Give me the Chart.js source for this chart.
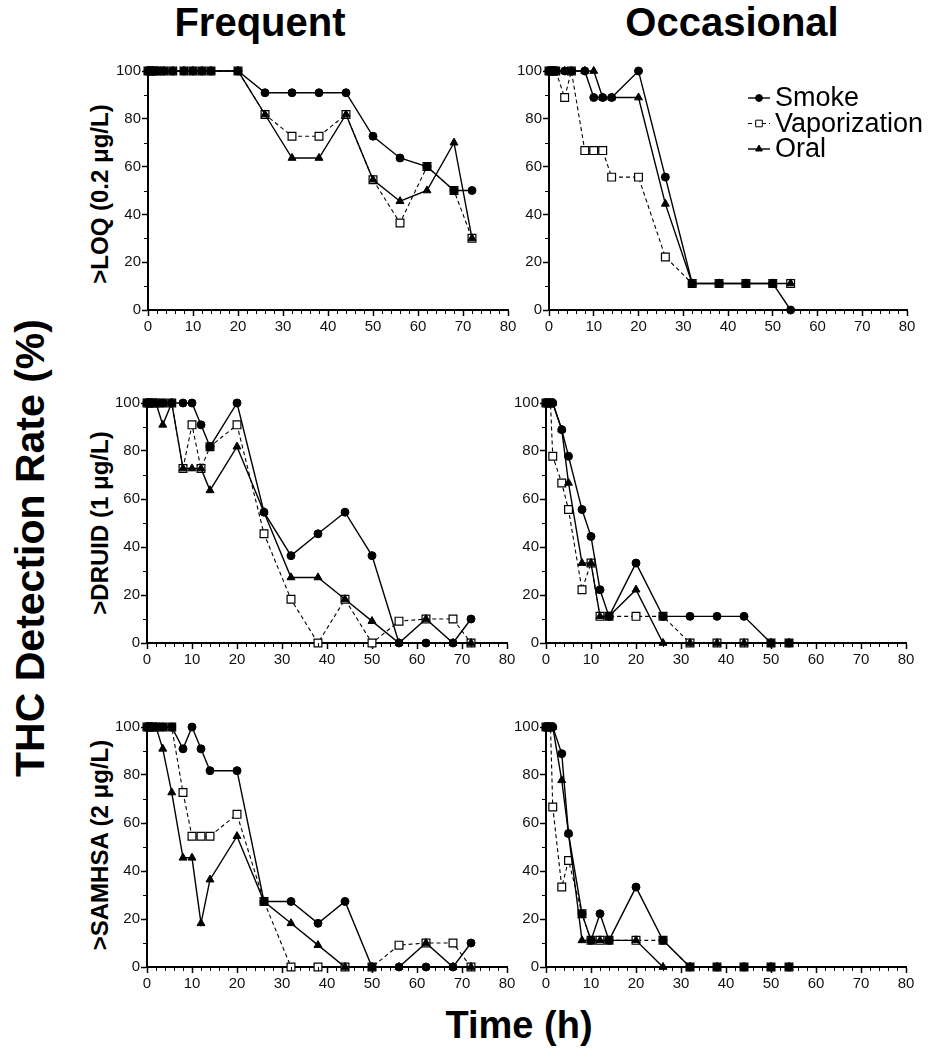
<!DOCTYPE html>
<html><head><meta charset="utf-8">
<script src="https://cdn.jsdelivr.net/npm/chart.js@4"></script>
<style>
body{margin:0;background:#fff;width:931px;height:1050px;position:relative;overflow:hidden;font-family:"Liberation Sans",Arial,Helvetica,sans-serif;}
canvas{position:absolute;}
.t{position:absolute;font-weight:bold;color:#000;white-space:nowrap;line-height:1;}
.c{transform:translate(-50%,-50%);}
.r{transform:translate(-50%,-50%) rotate(-90deg);}
</style></head><body>
<div class="t c" style="left:260px;top:22px;font-size:40px;">Frequent</div>
<div class="t c" style="left:732px;top:22px;font-size:40px;">Occasional</div>
<div class="t r" style="left:30px;top:548px;font-size:41px;">THC Detection Rate (%)</div>
<div class="t r" style="left:100px;top:194px;font-size:24px;">&gt;LOQ (0.2 μg/L)</div>
<div class="t r" style="left:100px;top:523px;font-size:24px;">&gt;DRUID (1 μg/L)</div>
<div class="t r" style="left:100px;top:845px;font-size:24px;">&gt;SAMHSA (2 μg/L)</div>
<div class="t c" style="left:519px;top:1025px;font-size:38px;">Time (h)</div>
<script>
// ---- data ----
const seriesNames = ["Smoke", "Vaporization", "Oral"];
const freqTimes = [0, 0.5, 1, 2, 3.5, 5.5, 8, 10, 12, 14, 20, 26, 32, 38, 44, 50, 56, 62, 68, 72];
const occTimes  = [0, 0.5, 1, 1.5, 3.5, 5, 8, 10, 12, 14, 20, 26, 32, 38, 44, 50, 54];

const freqLoqSmoke = [100,100,100,100,100,100,100,100,100,100,100, 90.9,90.9,90.9,90.9,72.7,63.6,60,50,50];
const freqLoqVapor = [100,100,100,100,100,100,100,100,100,100,100, 81.8,72.7,72.7,81.8,54.5,36.4,60,50,30];
const freqLoqOral  = [100,100,100,100,100,100,100,100,100,100,100, 81.8,63.6,63.6,81.8,54.5,45.5,50,70,30];

const freqDruidSmoke = [100,100,100,100,100,100, 100,100,90.9,81.8, 100, 54.5,36.4,45.5,54.5,36.4,0,0,0,10];
const freqDruidVapor = [100,100,100,100,100,100, 72.7,90.9,72.7,81.8, 90.9, 45.5,18.2,0,18.2,0,9.1,10,10,0];
const freqDruidOral  = [100,100,100,100,90.9,100, 72.7,72.7,72.7,63.6, 81.8, 54.5,27.3,27.3,18.2,9.1,0,10,0,0];

const freqSamhsaSmoke = [100,100,100,100,100,100, 90.9,100,90.9,81.8, 81.8, 27.3,27.3,18.2,27.3,0,0,0,0,10];
const freqSamhsaVapor = [100,100,100,100,100,100, 72.7,54.5,54.5,54.5, 63.6, 27.3,0,0,0,0,9.1,10,10,0];
const freqSamhsaOral  = [100,100,100,100,90.9,72.7, 45.5,45.5,18.2,36.4, 54.5, 27.3,18.2,9.1,0,0,0,10,0,0];

const occLoqSmoke = [100,100,100,100,100,100, 100,88.9,88.9,88.9, 100, 55.6,11.1,11.1,11.1,11.1,0];
const occLoqVapor = [100,100,100,100,88.9,100, 66.7,66.7,66.7,55.6, 55.6, 22.2,11.1,11.1,11.1,11.1,11.1];
const occLoqOral  = [100,100,100,100,100,100, 100,100,88.9,88.9, 88.9, 44.4,11.1,11.1,11.1,11.1,11.1];

const occDruidSmoke = [100,100,100,100,88.9,77.8, 55.6,44.4,22.2,11.1, 33.3, 11.1,11.1,11.1,11.1,0,0];
const occDruidVapor = [100,100,100,77.8,66.7,55.6, 22.2,33.3,11.1,11.1, 11.1, 11.1,0,0,0,0,0];
const occDruidOral  = [100,100,100,100,88.9,66.7, 33.3,33.3,11.1,11.1, 22.2, 0,0,0,0,0,0];

const occSamhsaSmoke = [100,100,100,100,88.9,55.6, 22.2,11.1,22.2,11.1, 33.3, 11.1,0,0,0,0,0];
const occSamhsaVapor = [100,100,100,66.7,33.3,44.4, 22.2,11.1,11.1,11.1, 11.1, 11.1,0,0,0,0,0];
const occSamhsaOral  = [100,100,100,100,77.8,55.6, 11.1,11.1,11.1,11.1, 11.1, 0,0,0,0,0,0];

const xMin = 0, xMax = 80, xStep = 10, xMinorStep = 2;
const yMin = 0, yMax = 100, yStep = 20, yMinorStep = 10;

// ---- layout / style ----
const FONT = '"Liberation Sans", Arial, Helvetica, sans-serif';
const Y_AXIS_W = 42, X_AXIS_H = 26, PAD_T = 10, PAD_R = 24;
const panels = [
  {times: freqTimes, s: freqLoqSmoke,   v: freqLoqVapor,   o: freqLoqOral,   L:148, T:71,  R:508, B:310},
  {times: occTimes,  s: occLoqSmoke,    v: occLoqVapor,    o: occLoqOral,    L:549, T:71,  R:907, B:310, legend:true},
  {times: freqTimes, s: freqDruidSmoke, v: freqDruidVapor, o: freqDruidOral, L:147, T:403, R:507, B:643},
  {times: occTimes,  s: occDruidSmoke,  v: occDruidVapor,  o: occDruidOral,  L:546, T:403, R:906, B:643},
  {times: freqTimes, s: freqSamhsaSmoke,v: freqSamhsaVapor,o: freqSamhsaOral,L:147, T:727, R:507, B:967},
  {times: occTimes,  s: occSamhsaSmoke, v: occSamhsaVapor, o: occSamhsaOral, L:546, T:727, R:906, B:967},
];

const minorTicks = {
  id: 'minorTicks',
  afterDraw(chart) {
    const ctx = chart.ctx, xs = chart.scales.x, ys = chart.scales.y, a = chart.chartArea;
    ctx.save(); ctx.strokeStyle = '#000'; ctx.lineWidth = 1; ctx.beginPath();
    for (let v = xMin + xMinorStep; v < xMax; v += xMinorStep) {
      if (v % xStep === 0) continue;
      const px = Math.round(xs.getPixelForValue(v)) + 0.5;
      ctx.moveTo(px, a.bottom); ctx.lineTo(px, a.bottom + 4);
    }
    for (let v = yMin + yMinorStep; v < yMax; v += yMinorStep) {
      if (v % yStep === 0) continue;
      const py = Math.round(ys.getPixelForValue(v)) + 0.5;
      ctx.moveTo(a.left, py); ctx.lineTo(a.left - 4, py);
    }
    ctx.stroke(); ctx.restore();
  }
};

const legendLines = {
  id: 'legendLines',
  afterDraw(chart, args, opts) {
    if (!opts || !opts.show) return;
    const ctx = chart.ctx, a = chart.chartArea;
    chart.data.datasets.forEach((ds, i) => {
      const y = a.top + 27 + i * 25.5, x0 = a.left + 199, x1 = a.left + 221, xm = (x0 + x1) / 2;
      ctx.save();
      ctx.strokeStyle = '#000'; ctx.lineWidth = ds.borderWidth; ctx.setLineDash(ds.borderDash || []);
      ctx.beginPath(); ctx.moveTo(x0, y); ctx.lineTo(x1, y); ctx.stroke();
      ctx.setLineDash([]);
      ctx.fillStyle = ds.pointBackgroundColor; ctx.strokeStyle = '#000'; ctx.lineWidth = 1;
      Chart.helpers.drawPoint(ctx, {pointStyle: ds.pointStyle, radius: ds.pointRadius * 0.85, rotation: 0, borderWidth: 1}, xm, y);
      ctx.fillStyle = '#000'; ctx.font = '27px ' + FONT; ctx.textBaseline = 'middle'; ctx.textAlign = 'left';
      ctx.fillText(ds.label, a.left + 226, y + 1);
      ctx.restore();
    });
  }
};

function pts(times, vals) { return times.map((t, i) => ({x: t, y: vals[i]})); }

function axis(min, max, step, isX) {
  return {
    type: 'linear', min, max,
    ticks: {stepSize: step, color: '#111', font: {size: 15, family: FONT}, padding: isX ? 2 : 1, maxRotation: 0, autoSkip: false},
    grid: {display: true, drawOnChartArea: false, drawTicks: true, tickLength: 6, tickColor: '#000', tickWidth: 1.5},
    border: {display: true, color: '#000', width: 2},
    afterFit(s) { if (isX) s.height = X_AXIS_H; else s.width = Y_AXIS_W; }
  };
}

panels.forEach(p => {
  const cv = document.createElement('canvas');
  const w = p.R - p.L + Y_AXIS_W + PAD_R, h = p.B - p.T + PAD_T + X_AXIS_H;
  cv.width = w; cv.height = h;
  cv.style.left = (p.L - Y_AXIS_W) + 'px'; cv.style.top = (p.T - PAD_T) + 'px';
  cv.style.width = w + 'px'; cv.style.height = h + 'px';
  document.body.appendChild(cv);
  new Chart(cv, {
    type: 'line',
    data: {
      datasets: [
        {label: seriesNames[0], data: pts(p.times, p.s), order: 0, borderColor: '#000', borderWidth: 1.4,
         pointStyle: 'circle', pointRadius: 4, pointBackgroundColor: '#000', pointBorderColor: '#000', pointBorderWidth: 1, clip: false},
        {label: seriesNames[1], data: pts(p.times, p.v), order: 2, borderColor: '#000', borderWidth: 1.1, borderDash: [4, 3],
         pointStyle: 'rect', pointRadius: 5.5, pointBackgroundColor: '#fff', pointBorderColor: '#000', pointBorderWidth: 1.2, clip: false},
        {label: seriesNames[2], data: pts(p.times, p.o), order: 1, borderColor: '#000', borderWidth: 1.4,
         pointStyle: 'triangle', pointRadius: 4.6, pointBackgroundColor: '#000', pointBorderColor: '#000', pointBorderWidth: 1, clip: false}
      ]
    },
    options: {
      responsive: false, animation: false, devicePixelRatio: 1,
      layout: {padding: {top: PAD_T, right: PAD_R, left: 0, bottom: 0}},
      elements: {line: {tension: 0, fill: false}},
      plugins: {legend: {display: false}, tooltip: {enabled: false}, legendLines: {show: !!p.legend}},
      scales: {x: axis(xMin, xMax, xStep, true), y: axis(yMin, yMax, yStep, false)}
    },
    plugins: [minorTicks, legendLines]
  });
});
</script>
</body></html>
